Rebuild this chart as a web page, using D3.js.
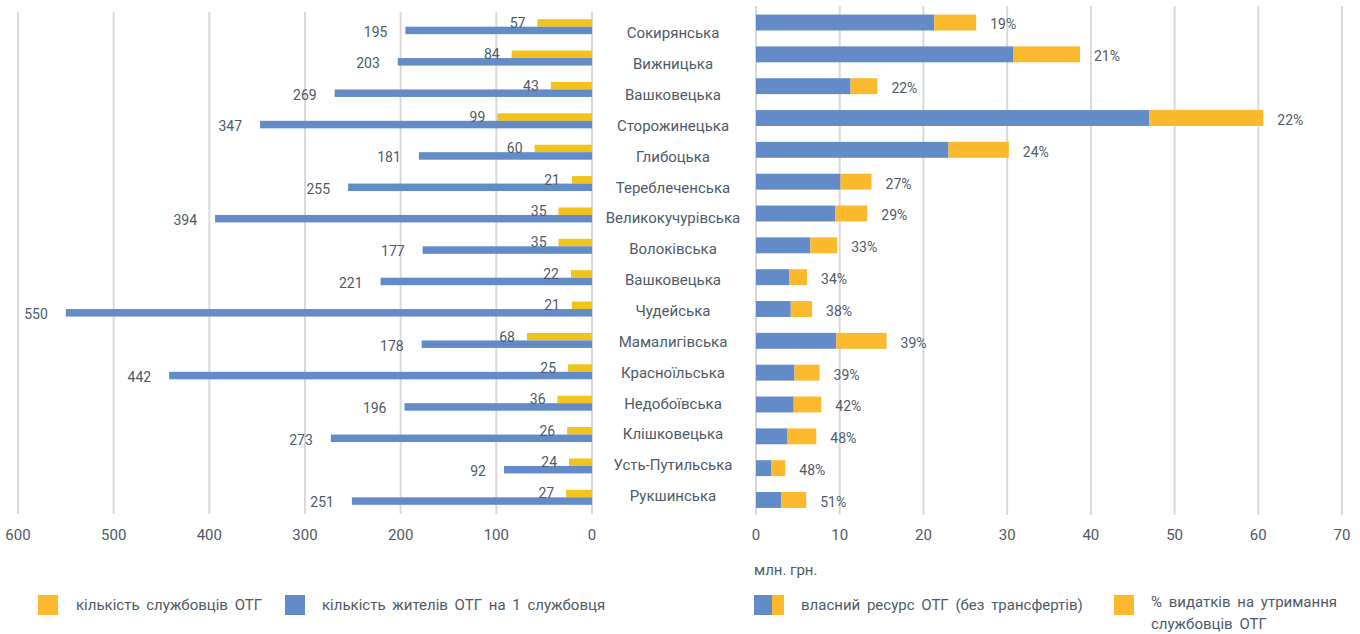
<!DOCTYPE html>
<meta charset="utf-8">
<style>
    body {
        margin: 0;
        background-color: #fff;
    }

    svg {
        font-family: "Liberation Sans Narrow", "Roboto", sans-serif;
    }

    text {
        fill: #505a67;
    }

    .cat {
        font: 15px Roboto, sans-serif;
    }

    .grid line {
        stroke: #d9d9d9;
        stroke-width: 2;
    }
</style>

<body>
    <script src="https://cdn.jsdelivr.net/npm/d3@7"></script>
    <script>
        // ---- data ----
        var communities = ["Сокирянська", "Вижницька", "Вашковецька", "Сторожинецька", "Глибоцька",
            "Тереблеченська", "Великокучурівська", "Волоківська", "Вашковецька", "Чудейська",
            "Мамалигівська", "Красноїльська", "Недобоївська", "Клішковецька", "Усть-Путильська", "Рукшинська"];

        // кількість службовців ОТГ
        var staff = [57, 84, 43, 99, 60, 21, 35, 35, 22, 21, 68, 25, 36, 26, 24, 27];
        // кількість жителів ОТГ на 1 службовця
        var residentsPerStaff = [195, 203, 269, 347, 181, 255, 394, 177, 221, 550, 178, 442, 196, 273, 92, 251];

        // власний ресурс ОТГ, млн. грн. (split: rest + staff expenses)
        var ownRest = [21.3, 30.7, 11.3, 47.0, 23.0, 10.1, 9.45, 6.5, 4.0, 4.15, 9.6, 4.6, 4.5, 3.7, 1.8, 3.0];
        var staffCost = [5.0, 8.0, 3.2, 13.6, 7.2, 3.7, 3.85, 3.2, 2.1, 2.55, 6.0, 3.0, 3.3, 3.5, 1.7, 3.0];
        var staffPct = ["19%", "21%", "22%", "22%", "24%", "27%", "29%", "33%", "34%", "38%", "39%", "39%", "42%", "48%", "48%", "51%"];

        var leftTicks = [0, 100, 200, 300, 400, 500, 600];
        var rightTicks = [0, 10, 20, 30, 40, 50, 60, 70];

        var blue = "#628bc7",
            yellowL = "#f1c31b",
            yellowR = "#fdb92e";

        var W = 1360, H = 634;
        var svg = d3.select("body").append("svg")
            .attr("width", W)
            .attr("height", H);

        var idx = d3.range(communities.length);

        // ---- left chart ----
        var xL = d3.scaleLinear().domain([0, 600]).range([592, 18]);
        var yL = d3.scaleBand().domain(idx).range([11, 513]);
        var hL = 7.5;

        svg.append("g").attr("class", "grid")
            .selectAll("line").data(leftTicks).enter().append("line")
            .attr("x1", d => xL(d)).attr("x2", d => xL(d))
            .attr("y1", 12).attr("y2", 514);

        var gL = svg.append("g");
        gL.selectAll(".staff").data(idx).enter().append("rect")
            .attr("x", i => xL(staff[i]))
            .attr("width", i => xL(0) - xL(staff[i]))
            .attr("y", i => yL(i) + yL.bandwidth() / 2 - hL)
            .attr("height", hL)
            .attr("fill", yellowL);

        gL.selectAll(".res").data(idx).enter().append("rect")
            .attr("x", i => xL(residentsPerStaff[i]))
            .attr("width", i => xL(0) - xL(residentsPerStaff[i]))
            .attr("y", i => yL(i) + yL.bandwidth() / 2)
            .attr("height", hL)
            .attr("fill", blue);

        gL.selectAll(".staffLbl").data(idx).enter().append("text")
            .attr("x", i => xL(staff[i]) - 12)
            .attr("y", i => yL(i) + yL.bandwidth() / 2 - hL / 2)
            .attr("dy", "0.35em")
            .attr("text-anchor", "end")
            .style("font-size", "14px")
            .text(i => staff[i]);

        gL.selectAll(".resLbl").data(idx).enter().append("text")
            .attr("x", i => xL(residentsPerStaff[i]) - 18)
            .attr("y", i => yL(i) + yL.bandwidth() / 2 + hL / 2 + 1.5)
            .attr("dy", "0.35em")
            .attr("text-anchor", "end")
            .style("font-size", "14px")
            .text(i => residentsPerStaff[i]);

        svg.append("g").selectAll("text").data(leftTicks).enter().append("text")
            .attr("x", d => xL(d))
            .attr("y", 535)
            .attr("dy", "0.35em")
            .attr("text-anchor", "middle")
            .style("font-size", "15px")
            .text(d => d);

        // ---- category labels ----
        var yC = d3.scaleBand().domain(idx).range([17.6, 511.4]);
        svg.append("g").selectAll("text").data(idx).enter().append("text")
            .attr("class", "cat")
            .attr("x", 673)
            .attr("y", i => yC(i) + yC.bandwidth() / 2)
            .attr("dy", "0.35em")
            .attr("text-anchor", "middle")
            .text(i => communities[i]);

        // ---- right chart ----
        var xR = d3.scaleLinear().domain([0, 70]).range([756, 1342]);
        var yR = d3.scaleBand().domain(idx).range([6.6, 515.9]).paddingInner(0.5).paddingOuter(0.25);

        svg.append("g").attr("class", "grid")
            .selectAll("line").data(rightTicks).enter().append("line")
            .attr("x1", d => xR(d)).attr("x2", d => xR(d))
            .attr("y1", 6).attr("y2", 515);

        var gR = svg.append("g");
        gR.selectAll(".own").data(idx).enter().append("rect")
            .attr("x", xR(0))
            .attr("width", i => xR(ownRest[i]) - xR(0))
            .attr("y", i => yR(i))
            .attr("height", yR.bandwidth())
            .attr("fill", blue);

        gR.selectAll(".cost").data(idx).enter().append("rect")
            .attr("x", i => xR(ownRest[i]))
            .attr("width", i => xR(ownRest[i] + staffCost[i]) - xR(ownRest[i]))
            .attr("y", i => yR(i))
            .attr("height", yR.bandwidth())
            .attr("fill", yellowR);

        gR.selectAll(".pct").data(idx).enter().append("text")
            .attr("x", i => xR(ownRest[i] + staffCost[i]) + 14)
            .attr("y", i => yR(i) + yR.bandwidth() / 2 + 2)
            .attr("dy", "0.35em")
            .style("font-size", "14px")
            .text(i => staffPct[i]);

        svg.append("g").selectAll("text").data(rightTicks).enter().append("text")
            .attr("x", d => xR(d))
            .attr("y", 535)
            .attr("dy", "0.35em")
            .attr("text-anchor", "middle")
            .style("font-size", "15px")
            .text(d => d);

        svg.append("text")
            .attr("x", 754).attr("y", 570).attr("dy", "0.35em")
            .style("font-size", "15px")
            .text("млн. грн.");

        // ---- legend ----
        var leg = svg.append("g").style("font-size", "15px").style("word-spacing", "3px");
        leg.append("rect").attr("x", 38).attr("y", 595).attr("width", 20).attr("height", 20).attr("fill", yellowR);
        leg.append("text").attr("x", 76).attr("y", 608).attr("dy", "0.1em").text("кількість  службовців  ОТГ");
        leg.append("rect").attr("x", 285).attr("y", 595).attr("width", 20).attr("height", 20).attr("fill", blue);
        leg.append("text").attr("x", 322).attr("y", 608).attr("dy", "0.1em").text("кількість  жителів ОТГ на 1 службовця");

        leg.append("rect").attr("x", 754).attr("y", 595).attr("width", 18).attr("height", 20).attr("fill", blue);
        leg.append("rect").attr("x", 772).attr("y", 595).attr("width", 12).attr("height", 20).attr("fill", yellowR);
        leg.append("text").attr("x", 801).attr("y", 608).attr("dy", "0.1em").text("власний ресурс ОТГ (без трансфертів)");
        leg.append("rect").attr("x", 1114).attr("y", 595).attr("width", 20).attr("height", 20).attr("fill", yellowR);
        leg.append("text").attr("x", 1151).attr("y", 605).attr("dy", "0.1em").text("% видатків на утримання");
        leg.append("text").attr("x", 1151).attr("y", 627).attr("dy", "0.1em").text("службовців ОТГ");
    </script>
</body>

</html>
